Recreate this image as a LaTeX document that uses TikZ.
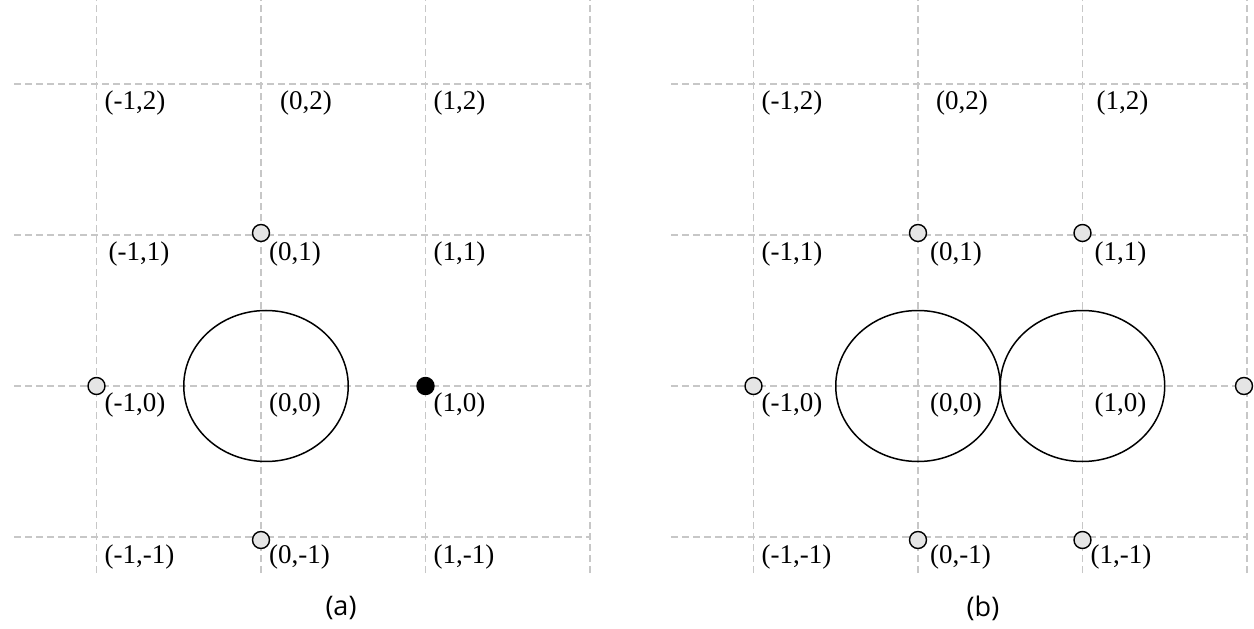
\documentclass[tikz,border=0pt]{standalone}
\usepackage{fontspec}
\setmainfont{Liberation Serif}
\newfontfamily\capfont{Open Sans}
\usepackage{tikz}
\usetikzlibrary{positioning}

\begin{document}
\begin{tikzpicture}[
    x=164.5pt, y=151pt,
    gridline/.style={draw=black!22, line width=1.3pt, dash pattern=on 7pt off 4pt},
    cell/.style={anchor=base west, inner sep=0pt, xshift=8pt, yshift=-26pt,
                 font=\fontsize{27}{32}\selectfont},
    pin/.style={circle, draw, fill=black!10, line width=1.4pt,
                minimum size=17pt, inner sep=0pt},
    hitpin/.style={pin, fill=black},
    disc/.style={draw, line width=1.5pt},
    caption/.style={font=\capfont\fontsize{27}{32}\selectfont, inner sep=0pt},
]
\useasboundingbox (-261pt,386pt) rectangle (993pt,-243pt);

% (a) single disc
\draw[gridline, step=1] (-1.5,-1.24) grid (2,2.556);
\draw[disc] ([xshift=5pt]0,0) circle (0.5);
\node[cell] (am12) at (-1,2) {(-1,2)};
\node[cell, xshift=11pt] (a02) at (0,2) {(0,2)};
\node[cell] (a12)  at (1,2)  {(1,2)};
\node[cell, xshift=4pt] (am11) at (-1,1) {(-1,1)};
\node[cell] (a01)  at (0,1)  {(0,1)};
\node[cell] (a11)  at (1,1)  {(1,1)};
\node[cell] (am10) at (-1,0) {(-1,0)};
\node[cell] (a00)  at (0,0)  {(0,0)};
\node[cell] (a10)  at (1,0)  {(1,0)};
\node[cell] (am1m1) at (-1,-1) {(-1,-1)};
\node[cell] (a0m1) at (0,-1) {(0,-1)};
\node[cell] (a1m1) at (1,-1) {(1,-1)};
\node[pin] (pa01)  at ([yshift=2pt]0,1)  {};
\node[pin] (pam10) at (-1,0) {};
\node[pin] (pa0m1) at ([yshift=-3pt]0,-1) {};
\node[hitpin] (pa10) at (1,0) {};
\node[caption] (capa) at (80pt,-222pt) {(a)};

% (b) two discs
\begin{scope}[xshift=657pt]
\draw[gridline, step=1] (-1.5,-1.24) grid (2,2.556);
\draw[disc] (0,0) circle (0.5);
\draw[disc] (1,0) circle (0.5);
\node[cell] (bm12) at (-1,2) {(-1,2)};
\node[cell, xshift=10pt] (b02) at (0,2) {(0,2)};
\node[cell, xshift=6pt] (b12) at (1,2) {(1,2)};
\node[cell] (bm11) at (-1,1) {(-1,1)};
\node[cell, xshift=4pt] (b01) at (0,1) {(0,1)};
\node[cell, xshift=4pt] (b11) at (1,1) {(1,1)};
\node[cell] (bm10) at (-1,0) {(-1,0)};
\node[cell, xshift=4pt] (b00) at (0,0) {(0,0)};
\node[cell, xshift=4pt] (b10) at (1,0) {(1,0)};
\node[cell] (bm1m1) at (-1,-1) {(-1,-1)};
\node[cell, xshift=4pt] (b0m1) at (0,-1) {(0,-1)};
\node[cell] (b1m1) at (1,-1) {(1,-1)};
\node[pin] (pb01)  at ([yshift=2pt]0,1)  {};
\node[pin] (pb11)  at ([yshift=2pt]1,1)  {};
\node[pin] (pbm10) at (-1,0) {};
\node[pin] (pb20)  at ([xshift=-3pt]2,0)  {};
\node[pin] (pb0m1) at ([yshift=-3pt]0,-1) {};
\node[pin] (pb1m1) at ([yshift=-3pt]1,-1) {};
\node[caption] (capb) at (65pt,-222pt) {(b)};
\end{scope}
\end{tikzpicture}
\end{document}
